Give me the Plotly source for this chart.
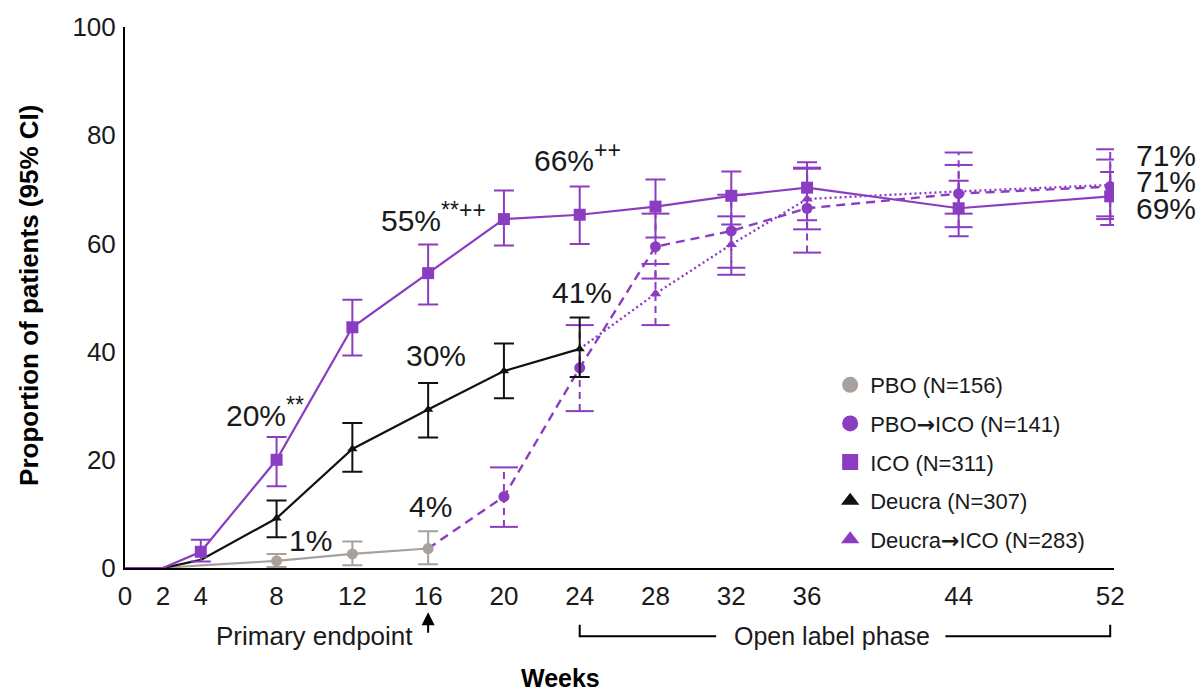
import plotly.graph_objects as go

PURPLE = "#8B3DC1"
GRAY = "#A8A09B"
BLACK = "#111111"

tick_weeks = [0, 2, 4, 8, 12, 16, 20, 24, 28, 32, 36, 44, 52]

# ICO (solid purple squares)
ico_weeks = [0, 2, 4, 8, 12, 16, 20, 24, 28, 32, 36, 44, 52]
ico_vals = [0, 0, 3.0, 20.0, 44.5, 54.5, 64.5, 65.3, 66.8, 68.8, 70.3, 66.5, 68.7]
ico_lo = [None, None, 1.2, 15.1, 39.3, 48.7, 59.6, 59.9, 61.1, 63.5, 64.3, 61.3, 63.4]
ico_hi = [None, None, 5.2, 24.2, 49.6, 59.8, 69.8, 70.5, 71.8, 73.3, 75.0, 71.6, 73.2]

# PBO (gray circles)
pbo_weeks = [0, 2, 4, 8, 12, 16]
pbo_vals = [0, 0, 0.5, 1.3, 2.6, 3.6]
pbo_lo = [None, None, None, 0.2, 0.5, 0.7]
pbo_hi = [None, None, None, 2.6, 4.9, 6.8]

# Deucra (black triangles)
deu_weeks = [0, 2, 4, 8, 12, 16, 20, 24]
deu_vals = [0, 0, 1.5, 9.2, 22.0, 29.3, 36.4, 40.5]
deu_lo = [None, None, None, 5.7, 17.8, 24.1, 31.4, 35.3]
deu_hi = [None, None, None, 12.5, 26.8, 34.2, 41.5, 46.3]

# PBO -> ICO (dashed purple circles), continues from PBO at week 16
p2i_weeks = [16, 20, 24, 28, 32, 36, 44, 52]
p2i_vals = [3.6, 13.2, 37.0, 59.4, 62.3, 66.5, 69.2, 70.5]
p2i_lo = [None, 7.6, 29.0, 53.5, 55.5, 58.3, 63.0, 64.5]
p2i_hi = [None, 18.6, 44.9, 65.5, 69.0, 74.0, 76.8, 77.4]

# Deucra -> ICO (dotted purple triangles), continues from Deucra at week 24
d2i_weeks = [24, 28, 32, 36, 44, 52]
d2i_vals = [40.5, 50.7, 59.8, 68.2, 69.6, 70.8]
d2i_lo = [None, 44.9, 54.2, 62.6, 65.5, 65.0]
d2i_hi = [None, 56.2, 65.0, 73.8, 74.5, 75.5]

ARROW = "<span style='font-family:DejaVu Sans'><b>→</b></span>"
legend_names = ["PBO (N=156)", f"PBO{ARROW}ICO (N=141)", "ICO (N=311)",
                "Deucra (N=307)", f"Deucra{ARROW}ICO (N=283)"]

FONT = "Liberation Sans, Arial, sans-serif"

fig = go.Figure()


def solid_series(weeks, vals, lo, hi, color, symbol, size):
    fig.add_trace(go.Scatter(x=weeks, y=vals, mode="lines",
                             line=dict(color=color, width=2.2),
                             showlegend=False, hoverinfo="skip"))
    idx = [i for i in range(len(vals)) if lo[i] is not None]
    plus = [hi[i] - vals[i] for i in idx]
    minus = [vals[i] - lo[i] for i in idx]
    fig.add_trace(go.Scatter(
        x=[weeks[i] for i in idx], y=[vals[i] for i in idx], mode="markers",
        marker=dict(color=color, symbol=symbol, size=size),
        error_y=dict(type="data", symmetric=False, array=plus, arrayminus=minus,
                     color=color, thickness=2, width=10),
        showlegend=False))


def dashed_series(weeks, vals, lo, hi, color, symbol, size, dash):
    fig.add_trace(go.Scatter(x=weeks, y=vals, mode="lines",
                             line=dict(color=color, width=2.4, dash=dash),
                             showlegend=False, hoverinfo="skip"))
    idx = [i for i in range(len(vals)) if lo[i] is not None]
    ex, ey = [], []
    for i in idx:
        ex += [weeks[i], weeks[i], None]
        ey += [lo[i], hi[i], None]
    fig.add_trace(go.Scatter(x=ex, y=ey, mode="lines",
                             line=dict(color=color, width=2, dash="7px,5px"),
                             showlegend=False, hoverinfo="skip"))
    fig.add_trace(go.Scatter(
        x=[weeks[i] for i in idx] * 2, y=[lo[i] for i in idx] + [hi[i] for i in idx],
        mode="markers",
        marker=dict(symbol="line-ew-open", size=20, color=color,
                    line=dict(color=color, width=2)),
        showlegend=False, hoverinfo="skip"))
    fig.add_trace(go.Scatter(
        x=[weeks[i] for i in idx], y=[vals[i] for i in idx], mode="markers",
        marker=dict(color=color, symbol=symbol, size=size), showlegend=False))


dashed_series(p2i_weeks, p2i_vals, p2i_lo, p2i_hi, PURPLE, "circle", 11, "9px,6px")
dashed_series(d2i_weeks, d2i_vals, d2i_lo, d2i_hi, PURPLE, "triangle-up", 10, "2px,3px")
solid_series(pbo_weeks, pbo_vals, pbo_lo, pbo_hi, GRAY, "circle", 11)
solid_series(deu_weeks, deu_vals, deu_lo, deu_hi, BLACK, "triangle-up", 9)
solid_series(ico_weeks, ico_vals, ico_lo, ico_hi, PURPLE, "square", 12)

# legend-only entries
leg_styles = [(GRAY, "circle"), (PURPLE, "circle"), (PURPLE, "square"),
              (BLACK, "triangle-up"), (PURPLE, "triangle-up")]
for i, (name, (c, s)) in enumerate(zip(legend_names, leg_styles)):
    fig.add_trace(go.Scatter(x=[None], y=[None], mode="markers", name=name,
                             legendgroup=str(i),
                             marker=dict(color=c, symbol=s, size=16)))

ann = []


def txt(x, y, text, size=30, xref="x", yref="y", xanchor="center"):
    ann.append(dict(x=x, y=y, xref=xref, yref=yref, text=text, showarrow=False,
                    xanchor=xanchor, yanchor="middle",
                    font=dict(family=FONT, size=size, color="#1a1a1a")))


def sup(s):
    return f"<sup><span style='font-size:23px'>{s}</span></sup>"


txt(7.4, 28.8, "20%" + sup("**"))
txt(16.3, 64.8, "55%" + sup("**++"))
txt(23.9, 75.9, "66%" + sup("++"))
txt(16.4, 39.3, "30%")
txt(24.1, 51.0, "41%")
txt(9.8, 5.0, "1%")
txt(16.1, 11.3, "4%")
txt(1.02, 76.3, "71%", xref="paper", xanchor="left")
txt(1.02, 71.5, "71%", xref="paper", xanchor="left")
txt(1.02, 66.5, "69%", xref="paper", xanchor="left")

# below-axis labels
txt(10.0, -0.126, "Primary endpoint", size=26, yref="paper")
txt(37.3, -0.126, "Open label phase", size=25, yref="paper")
ann.append(dict(x=16, y=-0.082, xref="x", yref="paper", text="", showarrow=True,
                ax=0, ay=22, arrowhead=2, arrowsize=1.3, arrowwidth=2,
                arrowcolor="#000"))
ann.append(dict(x=0.44, y=-0.203, xref="paper", yref="paper", text="<b>Weeks</b>",
                xanchor="center", yanchor="middle",
                showarrow=False, font=dict(family=FONT, size=25, color="#000")))
ann.append(dict(x=-0.097, y=0.503, xref="paper", yref="paper",
                xanchor="center", yanchor="middle",
                text="<b>Proportion of patients (95% CI)</b>", textangle=-90,
                showarrow=False, font=dict(family=FONT, size=26, color="#000")))

shapes = [
    dict(type="path", xref="x", yref="paper",
         path="M 24,-0.105 L 24,-0.126 L 31.2,-0.126", line=dict(color="#000", width=2)),
    dict(type="path", xref="x", yref="paper",
         path="M 43.3,-0.126 L 52,-0.126 L 52,-0.105", line=dict(color="#000", width=2)),
]

fig.update_layout(
    width=1198, height=691,
    margin=dict(l=125, r=84, t=27, b=123),
    paper_bgcolor="white", plot_bgcolor="white",
    font=dict(family=FONT, color="#1a1a1a"),
    annotations=ann, shapes=shapes,
    legend=dict(x=0.713, y=0.377, xanchor="left", yanchor="top",
                font=dict(family=FONT, size=22, color="#1a1a1a"),
                tracegroupgap=7, bgcolor="rgba(0,0,0,0)", itemwidth=30),
    xaxis=dict(range=[0, 52.2], tickvals=tick_weeks, ticktext=[str(t) for t in tick_weeks],
               showgrid=False, zeroline=False, showline=True, linecolor="#000", linewidth=2,
               ticks="", tickfont=dict(family=FONT, size=26, color="#1a1a1a"),
               ticklabelstandoff=4),
    yaxis=dict(range=[0, 100], tickvals=[0, 20, 40, 60, 80, 100],
               showgrid=False, zeroline=False, showline=True, linecolor="#000", linewidth=2,
               ticks="", tickfont=dict(family=FONT, size=26, color="#1a1a1a"),
               ticklabelstandoff=2),
)

fig.write_html("out.html")
